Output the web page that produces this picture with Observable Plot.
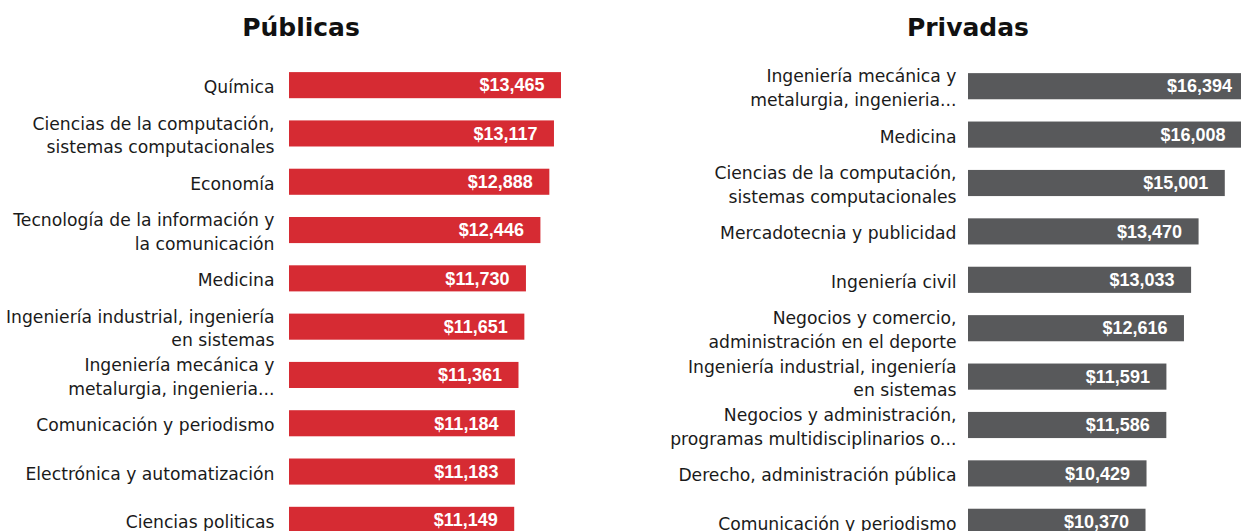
<!DOCTYPE html>
<html>
<head>
<meta charset="utf-8">
<script src="https://cdn.jsdelivr.net/npm/d3@7"></script>
<script src="https://cdn.jsdelivr.net/npm/@observablehq/plot@0.6"></script>
<style>
  html, body { margin: 0; padding: 0; background: #fff; }
  #wrap { position: relative; width: 1241px; height: 531px; overflow: hidden; }
  .panel { position: absolute; top: 0; }
  .title { position: absolute; top: 13px; font-family: "DejaVu Sans", sans-serif; font-weight: bold; font-size: 25px; color: #111; text-align: center; white-space: nowrap; }
</style>
</head>
<body>
<div id="wrap"></div>
<script>
const publicasCats = [
  "Química",
  "Ciencias de la computación,\nsistemas computacionales",
  "Economía",
  "Tecnología de la información y\nla comunicación",
  "Medicina",
  "Ingeniería industrial, ingeniería\nen sistemas",
  "Ingeniería mecánica y\nmetalurgia, ingenieria...",
  "Comunicación y periodismo",
  "Electrónica y automatización",
  "Ciencias politicas"
];
const publicasVals = [13465, 13117, 12888, 12446, 11730, 11651, 11361, 11184, 11183, 11149];

const privadasCats = [
  "Ingeniería mecánica y\nmetalurgia, ingenieria...",
  "Medicina",
  "Ciencias de la computación,\nsistemas computacionales",
  "Mercadotecnia y publicidad",
  "Ingeniería civil",
  "Negocios y comercio,\nadministración en el deporte",
  "Ingeniería industrial, ingeniería\nen sistemas",
  "Negocios y administración,\nprogramas multidisciplinarios o...",
  "Derecho, administración pública",
  "Comunicación y periodismo"
];
const privadasVals = [16394, 16008, 15001, 13470, 13033, 12616, 11591, 11586, 10429, 10370];

const titles = ["Públicas", "Privadas"];
const colors = ["#d62b33", "#58595b"];

const fmt = v => "$" + d3.format(",")(v);

function panel(cats, vals, color, o) {
  const data = cats.map((c, i) => ({cat: c, value: vals[i]}));
  return Plot.plot({
    width: o.width,
    height: o.height,
    marginLeft: o.marginLeft,
    marginRight: 0,
    marginTop: o.marginTop,
    marginBottom: 0,
    x: {domain: [0, o.xMax], axis: null},
    y: {domain: cats, axis: null, paddingInner: 0.46, paddingOuter: 0.23, round: false},
    style: {fontFamily: "DejaVu Sans, sans-serif", background: "transparent", overflow: "visible", maxWidth: "none"},
    marks: [
      Plot.barX(data, {x: "value", y: "cat", fill: color}),
      Plot.text(data, {x: "value", y: "cat", text: d => fmt(d.value), textAnchor: "end", dx: -17,
        fill: "white", fontWeight: "bold", fontSize: 18, fontFamily: "Liberation Sans, sans-serif"}),
      Plot.text(data, {x: 0, y: "cat", text: "cat", textAnchor: "end", dx: o.gap,
        fill: "#1a1a1a", fontSize: 17.2, lineHeight: 1.37})
    ]
  });
}

const wrap = document.getElementById("wrap");

function addPanel(left, width, titleCenter, title, chart) {
  const p = document.createElement("div");
  p.className = "panel";
  p.style.left = left + "px";
  p.style.width = width + "px";
  p.appendChild(chart);
  wrap.appendChild(p);
  const t = document.createElement("div");
  t.className = "title";
  t.textContent = title;
  t.style.left = (titleCenter - 100) + "px";
  t.style.width = "200px";
  wrap.appendChild(t);
}

addPanel(0, 592, 301, titles[0], panel(publicasCats, publicasVals, colors[0],
  {width: 592, height: 544, marginLeft: 289, marginTop: 61, xMax: 15000, gap: -15}));
addPanel(620, 639, 968, titles[1], panel(privadasCats, privadasVals, colors[1],
  {width: 639, height: 546, marginLeft: 348, marginTop: 62, xMax: 17000, gap: -12}));
</script>
</body>
</html>
